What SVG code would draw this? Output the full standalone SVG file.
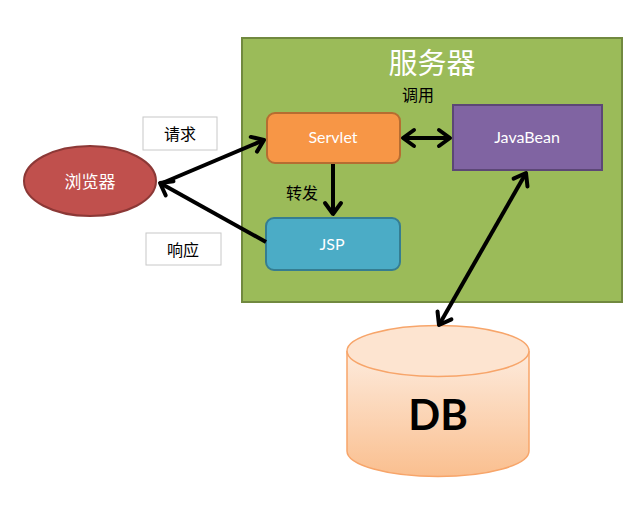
<svg xmlns="http://www.w3.org/2000/svg" width="635" height="509" viewBox="0 0 635 509">
<style>
.cjk{font-family:"Noto Sans CJK SC","Noto Sans",sans-serif}
.lat{font-family:Lato,"Liberation Sans",sans-serif}
.wt{fill:#fff}
.lbl{fill:#000;font-size:16px}
.conn{stroke:#000;stroke-width:4;fill:none;marker-end:url(#ah)}
.both{marker-start:url(#ah)}
</style>
<defs>
<marker id="ah" markerUnits="userSpaceOnUse" markerWidth="30" markerHeight="30" viewBox="-15 -15 30 30" refX="0" refY="0" orient="auto-start-reverse">
<path d="M-11,-8 L0,0 L-11,8" fill="none" stroke="#000" stroke-width="4" stroke-linecap="round" stroke-linejoin="round"/>
</marker>
<linearGradient id="dbg" x1="0" y1="0" x2="0" y2="1">
<stop offset="0" stop-color="#FDEBDD"/>
<stop offset="1" stop-color="#FABF8F"/>
</linearGradient>
</defs>
<rect width="635" height="509" fill="#fff"/>
<g id="server">
<rect x="242" y="38" width="380" height="264" fill="#9BBB59" stroke="#71893F" stroke-width="2"/>
<text x="432" y="74" text-anchor="middle" class="cjk wt" font-size="29">服务器</text>
</g>
<g id="browser">
<ellipse cx="90" cy="181" rx="66" ry="35" fill="#C0504D" stroke="#8C3836" stroke-width="2"/>
<text x="90" y="188" text-anchor="middle" class="cjk wt" font-size="17">浏览器</text>
</g>
<g id="servlet">
<rect x="267" y="113" width="133" height="50" rx="8" fill="#F79646" stroke="#B66D31" stroke-width="2"/>
<text x="333" y="143" text-anchor="middle" class="lat wt" font-size="16">Servlet</text>
</g>
<g id="javabean">
<rect x="453" y="105" width="149" height="65" fill="#8064A2" stroke="#5C4776" stroke-width="2"/>
<text x="527" y="143" text-anchor="middle" class="lat wt" font-size="16">JavaBean</text>
</g>
<g id="jsp">
<rect x="266" y="218" width="134" height="52" rx="8" fill="#4BACC6" stroke="#357D91" stroke-width="2"/>
<text x="332" y="250" text-anchor="middle" class="lat wt" font-size="16">JSP</text>
</g>
<g id="db">
<path d="M347,351 L347,451 A91,25.5 0 0 0 529,451 L529,351" fill="url(#dbg)" stroke="#F7A56A" stroke-width="1.5"/>
<ellipse cx="438" cy="351" rx="91" ry="25.5" fill="#FDE4D0" stroke="#F7A56A" stroke-width="1.5"/>
<text x="438" y="430" text-anchor="middle" class="lat" font-weight="bold" font-size="42" fill="#000">DB</text>
</g>
<g id="label-req">
<rect x="143" y="117" width="74" height="33" fill="#fff" stroke="#c8c8c8"/>
<text x="180" y="140" text-anchor="middle" class="cjk lbl">请求</text>
</g>
<g id="label-resp">
<rect x="146" y="233" width="75" height="32" fill="#fff" stroke="#c8c8c8"/>
<text x="183" y="256" text-anchor="middle" class="cjk lbl">响应</text>
</g>
<g id="connectors">
<line class="conn" x1="160" y1="184" x2="264" y2="140"/>
<line class="conn" x1="266" y1="242" x2="160" y2="183"/>
<line class="conn" x1="333" y1="164" x2="333" y2="214"/>
<line class="conn both" x1="403" y1="138" x2="450" y2="138"/>
<line class="conn both" x1="439" y1="325" x2="526" y2="173"/>
<text x="418" y="101" text-anchor="middle" class="cjk lbl">调用</text>
<text x="302" y="199" text-anchor="middle" class="cjk lbl">转发</text>
</g>
</svg>
